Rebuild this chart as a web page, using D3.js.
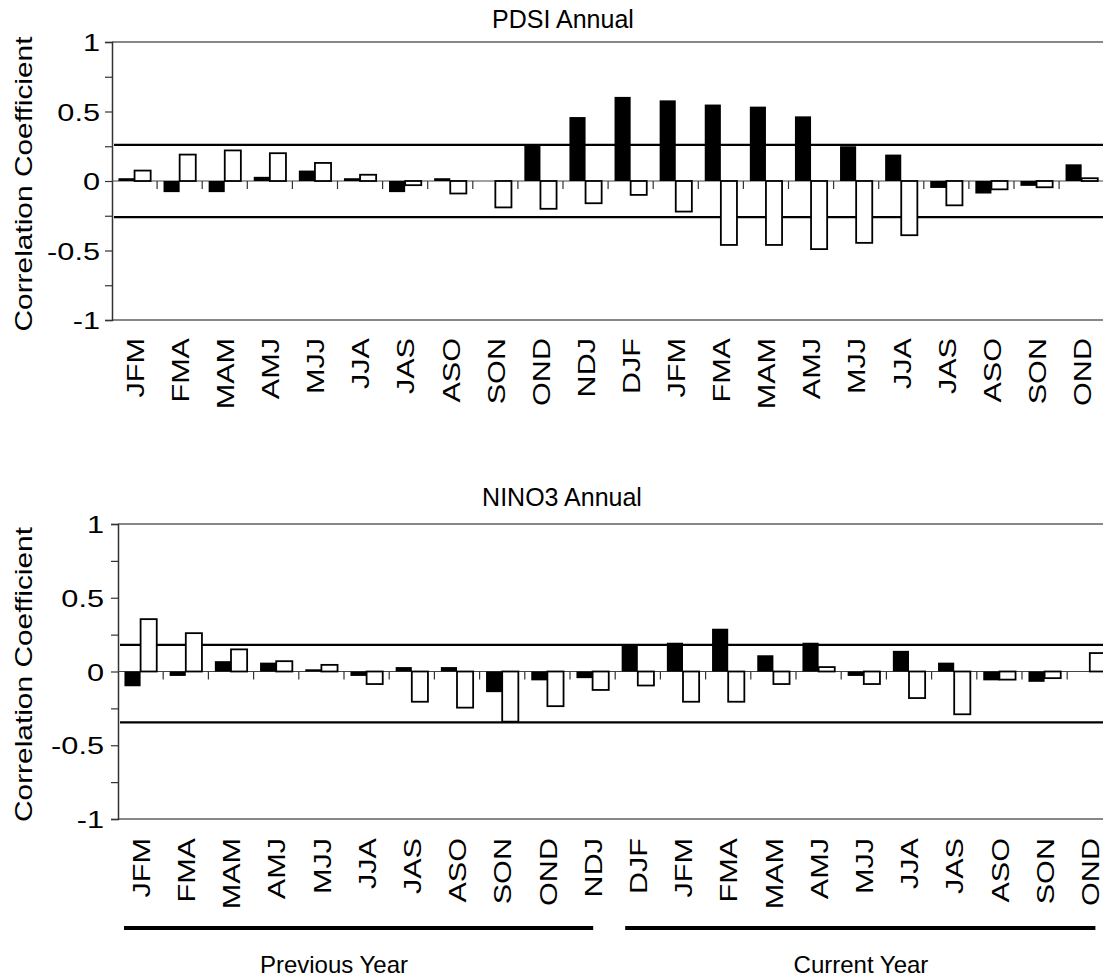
<!DOCTYPE html>
<html>
<head>
<meta charset="utf-8">
<script src="https://cdn.jsdelivr.net/npm/d3@7"></script>
<style>
  body { margin: 0; background: #fff; }
  text { font-family: "Liberation Sans", Arial, sans-serif; fill: #000; }
</style>
</head>
<body>
<svg id="chart" width="1103" height="979"></svg>
<script>
// categories (3-month seasons, previous year then current year)
var categories = ["JFM","FMA","MAM","AMJ","MJJ","JJA","JAS","ASO","SON","OND","NDJ",
                  "DJF","JFM","FMA","MAM","AMJ","MJJ","JJA","JAS","ASO","SON","OND"];
var yTicks = [-1, -0.75, -0.5, -0.25, 0, 0.25, 0.5, 0.75, 1];
var yLabels = [-1, -0.5, 0, 0.5, 1];

// PDSI Annual
var pdsiBlack = [0.02,-0.08,-0.08,0.03,0.075,0.02,-0.08,0.02,0,0.26,0.46,
                 0.605,0.58,0.55,0.535,0.465,0.25,0.19,-0.05,-0.09,-0.035,0.12];
var pdsiWhite = [0.075,0.19,0.22,0.20,0.13,0.045,-0.03,-0.09,-0.19,-0.20,-0.16,
                 -0.10,-0.22,-0.46,-0.46,-0.49,-0.445,-0.39,-0.175,-0.06,-0.045,0.02];
var pdsiSignif = [0.26, -0.26];

// NINO3 Annual
var ninoBlack = [-0.10,-0.03,0.07,0.06,0.015,-0.03,0.03,0.03,-0.14,-0.06,-0.045,
                 0.18,0.195,0.29,0.11,0.195,-0.03,0.14,0.06,-0.06,-0.07,0];
var ninoWhite = [0.355,0.26,0.15,0.07,0.045,-0.085,-0.205,-0.245,-0.34,-0.235,-0.125,
                 -0.095,-0.205,-0.205,-0.085,0.03,-0.085,-0.18,-0.29,-0.055,-0.045,0.125];
var ninoSignif = [0.18, -0.345];

var svg = d3.select("#chart");

function drawPanel(opt){
  var x = d3.scaleBand()
            .domain(d3.range(categories.length))
            .range([opt.left, opt.left + opt.step * categories.length])
            .paddingInner(0).paddingOuter(0);
  var sub = d3.scaleBand()
              .domain(["b","w"])
              .range([0, x.bandwidth()])
              .paddingInner(0).paddingOuter(0.4);
  var y = d3.scaleLinear().domain([-1, 1]).range([opt.bottom, opt.top]);

  var g = svg.append("g");

  // title
  g.append("text")
    .attr("x", opt.titleX)
    .attr("y", opt.titleY)
    .attr("font-size", "25px")
    .style("text-anchor", "middle")
    .text(opt.title);

  // top and bottom frame lines
  [1, -1].forEach(function(v){
    g.append("line")
      .attr("x1", opt.left).attr("x2", 1103)
      .attr("y1", y(v)).attr("y2", y(v))
      .attr("stroke", "#888").attr("stroke-width", 2);
  });

  // y axis
  var yAxis = d3.axisLeft(y)
                .tickValues(yTicks)
                .tickSize(7)
                .tickPadding(8)
                .tickFormat(d => yLabels.indexOf(d) >= 0 ? String(d) : "");
  var ya = g.append("g")
            .attr("transform", "translate(" + opt.left + ",0)")
            .call(yAxis);
  ya.select(".domain").attr("stroke", "#333").attr("stroke-width", 1.5);
  ya.selectAll(".tick line").attr("stroke", "#333").attr("stroke-width", 1.2);
  ya.selectAll(".tick text")
    .attr("font-size", "24px")
    .attr("font-family", "Liberation Sans, Arial, sans-serif")
    .attr("fill", "#000")
    .attr("x", null)
    .attr("transform", "translate(" + (-opt.labelGap) + ",0) scale(1.28,1)")
    .attr("dy", "0.36em");

  // zero line
  g.append("line")
    .attr("x1", opt.left).attr("x2", 1103)
    .attr("y1", y(0)).attr("y2", y(0))
    .attr("stroke", "#444").attr("stroke-width", 1.2);

  // category boundary ticks below zero
  g.selectAll(".ctick")
    .data(d3.range(1, categories.length))
    .enter()
    .append("line")
    .attr("x1", d => x(d)).attr("x2", d => x(d))
    .attr("y1", y(0)).attr("y2", y(0) + 8)
    .attr("stroke", "#333").attr("stroke-width", 1.2);

  // significance lines
  g.selectAll(".sig")
    .data(opt.signif)
    .enter()
    .append("line")
    .attr("x1", opt.left + 2).attr("x2", 1103)
    .attr("y1", d => y(d)).attr("y2", d => y(d))
    .attr("stroke", "#000").attr("stroke-width", 2.2);

  // bars
  var rows = categories.map((c, i) => ({i: i, b: opt.black[i], w: opt.white[i]}));
  g.selectAll(".barb")
    .data(rows)
    .enter()
    .append("rect")
    .attr("x", d => x(d.i) + sub("b"))
    .attr("width", sub.bandwidth())
    .attr("y", d => y(Math.max(0, d.b)))
    .attr("height", d => Math.abs(y(d.b) - y(0)))
    .attr("fill", "#000");
  g.selectAll(".barw")
    .data(rows)
    .enter()
    .append("rect")
    .attr("x", d => x(d.i) + sub("w"))
    .attr("width", sub.bandwidth())
    .attr("y", d => y(Math.max(0, d.w)))
    .attr("height", d => Math.abs(y(d.w) - y(0)))
    .attr("fill", "#fff")
    .attr("stroke", "#000")
    .attr("stroke-width", 1.8);

  // category labels
  g.selectAll(".clab")
    .data(categories)
    .enter()
    .append("text")
    .attr("transform", (d, i) => "translate(" + (x(i) + x.bandwidth() / 2 + 1) + "," + opt.labelY + ") rotate(-90) scale(1.33,1)")
    .attr("dy", "0.36em")
    .attr("font-size", "23px")
    .style("text-anchor", "end")
    .text(d => d);

  // y axis title
  g.append("text")
    .attr("transform", "translate(32," + ((opt.top + opt.bottom) / 2 + 3) + ") rotate(-90) scale(1.3,1)")
    .attr("font-size", "23px")
    .style("text-anchor", "middle")
    .text("Correlation Coefficient");

  return x;
}

drawPanel({title: "PDSI Annual", titleX: 563, titleY: 28,
           left: 112, step: 45.1, top: 42, bottom: 320, labelY: 338, labelGap: 12,
           black: pdsiBlack, white: pdsiWhite, signif: pdsiSignif});

var xb = drawPanel({title: "NINO3 Annual", titleX: 562, titleY: 506,
           left: 118, step: 45.2, top: 524, bottom: 819, labelY: 838, labelGap: 14,
           black: ninoBlack, white: ninoWhite, signif: ninoSignif});

// previous / current year brackets
var periods = ["Previous Year", "Current Year"];
var periodSpan = [[0, 10], [11, 21]];
var periodOffset = [[6, -22], [10, -17]];
var periodTextX = [334, 861];

periods.forEach(function(p, k){
  var a = xb(periodSpan[k][0]) + periodOffset[k][0];
  var b = xb(periodSpan[k][1]) + xb.bandwidth() + periodOffset[k][1];
  svg.append("line")
    .attr("x1", a).attr("x2", b)
    .attr("y1", 928).attr("y2", 928)
    .attr("stroke", "#000").attr("stroke-width", 4);
  svg.append("text")
    .attr("x", periodTextX[k]).attr("y", 973)
    .attr("font-size", "24px")
    .style("text-anchor", "middle")
    .text(p);
});
</script>
</body>
</html>
